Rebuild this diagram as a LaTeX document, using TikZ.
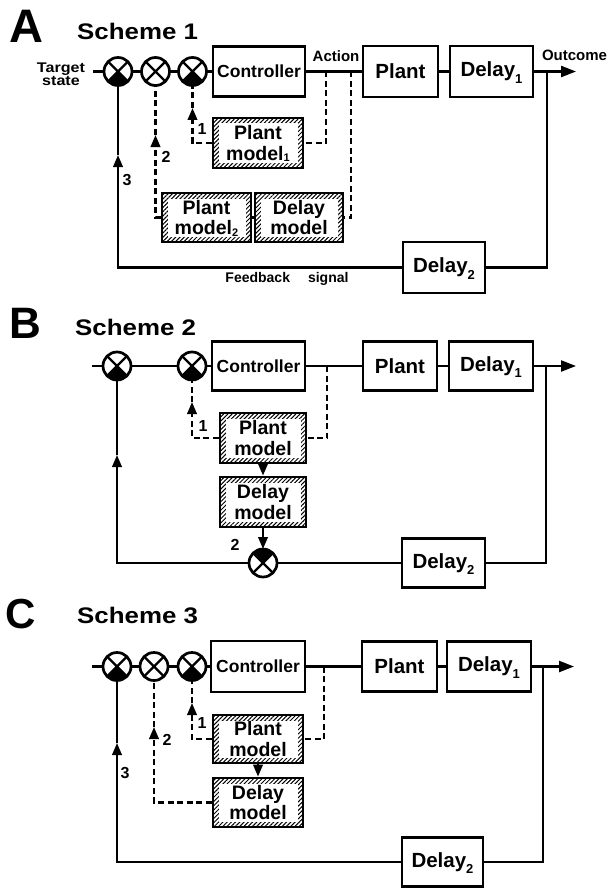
\documentclass[tikz,border=0pt]{standalone}
\usepackage{fontspec}
\setmainfont{Liberation Sans}
\newfontfamily\widefont[FakeStretch=1.15]{Liberation Sans}
\usetikzlibrary{arrows.meta,patterns.meta}

\newcommand\dsub[1]{\raisebox{-6.5pt}[0pt][0pt]{\fontsize{13}{13}\selectfont #1}}
\newcommand\msub[1]{\raisebox{-1.5pt}[0pt][0pt]{\fontsize{11}{11}\selectfont #1}}
\newcommand\jcross[1]{\draw[line width=2.2pt] (#1.45) -- (#1.225) (#1.135) -- (#1.-45);}
\newcommand\jbot[1]{\fill (#1.center) -- (#1.-135) arc[start angle=-135,end angle=-45,radius=14pt] -- cycle;}
\newcommand\jtop[1]{\fill (#1.center) -- (#1.45) arc[start angle=45,end angle=135,radius=14pt] -- cycle;}

\tikzset{
  blk/.style={draw, line width=2.2pt, inner sep=0pt, align=center,
    font=\fontsize{20.5}{21}\selectfont\bfseries},
  ctrl/.style={blk, font=\fontsize{17.5}{18}\selectfont\bfseries},
  hbox/.style={draw, line width=2.8pt, inner sep=0pt, align=center,
    font=\fontsize{19.5}{20.5}\selectfont\bfseries,
    path picture={
      \fill[pattern={Lines[angle=45,distance=3pt,line width=1pt]}]
        (path picture bounding box.south west) rectangle (path picture bounding box.north east);
      \fill[white] ([shift={(5.5pt,-5.5pt)}]path picture bounding box.north west)
        rectangle ([shift={(-5.5pt,5.5pt)}]path picture bounding box.south east);
    }},
  junc/.style={circle, draw, line width=2.7pt, minimum size=28pt, inner sep=0pt, outer sep=0pt},
  conn/.style={line width=2.3pt},
  dconn/.style={line width=2.2pt, dash pattern=on 6pt off 3.5pt},
  tip/.style={-{Triangle[length=12pt,width=9.5pt]}},
  bigtip/.style={-{Triangle[length=15pt,width=11pt]}},
  lbl/.style={inner sep=0pt, font=\fontsize{15}{15}\selectfont\bfseries},
  num/.style={inner sep=0pt, font=\fontsize{16}{16}\selectfont\bfseries},
  small/.style={inner sep=0pt, align=center, font=\widefont\bfseries\fontsize{14}{13}\selectfont},
  fb/.style={inner sep=0pt, font=\fontsize{14}{14}\selectfont\bfseries},
  title/.style={inner sep=0pt, anchor=base west, font=\widefont\bfseries\fontsize{22.5}{22.5}\selectfont},
  bigl/.style={inner sep=0pt, font=\bfseries},
}

\begin{document}
\begin{tikzpicture}[x=1pt,y=-1pt]
\useasboundingbox (0,0) rectangle (608,888);

% ================= Panel A =================
\node[bigl, font=\fontsize{47}{47}\selectfont\bfseries] (A) at (26.5,26.5) {A};
\node[title] (tA) at (77,40) {Scheme 1};
\node[small] (tgt) at (61,74) {Target\\state};
\coordinate (inA) at (93,71.5);
\node[junc] (a1) at (118,71.5) {};
\node[junc] (a2) at (155.5,71.5) {};
\node[junc] (a3) at (192.5,71.5) {};
\node[ctrl, minimum width=92pt, minimum height=50pt] (ctA) at (259,71.5) {Controller};
\node[blk, minimum width=75pt, minimum height=51pt] (plA) at (400.5,71.5) {Plant};
\node[blk, minimum width=83pt, minimum height=51pt] (d1A) at (491.5,71.5) {Delay\dsub{1}};
\node[lbl] (actA) at (336,56) {Action};
\node[lbl] (outA) at (574.5,55) {Outcome};
\coordinate (oA) at (576,71.5);
\coordinate (rA) at (547,71.5);
\coordinate (t1A) at (326,71.5);
\coordinate (t2A) at (351,71.5);
\node[hbox, minimum width=90pt, minimum height=50pt] (pm1A) at (258,143) {Plant\\model\msub{1}};
\node[hbox, minimum width=89pt, minimum height=49pt] (pm2A) at (206.5,217.5) {Plant\\model\msub{2}};
\node[hbox, minimum width=88pt, minimum height=49pt] (dmA) at (299,217.5) {Delay\\model};
\node[blk, minimum width=82pt, minimum height=51pt] (d2A) at (444,267.5) {Delay\dsub{2}};
\coordinate (ar1A) at (192.5,108);
\coordinate (ar2A) at (155.5,135);
\coordinate (ar3A) at (118,155);
\node[num] (n1A) at (202,129) {1};
\node[num] (n2A) at (166,157) {2};
\node[num] (n3A) at (127,180) {3};
\node[fb] (fbA) at (287,278.5) {Feedback\hspace{18pt}signal};

\draw[conn] (inA) -- (a1) -- (a2) -- (a3) -- (ctA) -- (plA) -- (d1A);
\draw[conn, bigtip] (d1A) -- (oA);
\draw[conn] (rA) |- (d2A);
\draw[conn, tip] (d2A) -| (ar3A);
\draw[conn] (ar3A) -- (a1);
\draw[dconn] (t1A) |- (pm1A);
\draw[dconn] (t2A) |- (dmA);
\draw[dconn, tip] (pm1A) -| (ar1A);
\draw[dconn] (ar1A) -- (a3);
\draw[dconn, tip] (pm2A) -| (ar2A);
\draw[dconn] (ar2A) -- (a2);
\draw[conn] (pm2A) -- (dmA);
\jbot{a1}\jcross{a1}
\jcross{a2}
\jbot{a3}\jcross{a3}

% ================= Panel B =================
\node[bigl, font=\fontsize{44}{44}\selectfont\bfseries] (B) at (25,323) {B};
\node[title] (tB) at (75,335) {Scheme 2};
\coordinate (inB) at (92,366);
\node[junc] (b1) at (117,366) {};
\node[junc] (b2) at (192,366) {};
\node[ctrl, minimum width=93pt, minimum height=49pt] (ctB) at (258.5,366) {Controller};
\node[blk, minimum width=74pt, minimum height=49pt] (plB) at (400,366) {Plant};
\node[blk, minimum width=84pt, minimum height=49pt] (d1B) at (491,366) {Delay\dsub{1}};
\coordinate (oB) at (576,366);
\coordinate (rB) at (546,366);
\coordinate (t1B) at (327,366);
\node[hbox, minimum width=86pt, minimum height=50pt] (pmB) at (263,438) {Plant\\model};
\node[hbox, minimum width=86pt, minimum height=50pt] (dmB) at (263,502) {Delay\\model};
\node[junc] (b3) at (263,563) {};
\node[blk, minimum width=83pt, minimum height=49pt] (d2B) at (443.5,563) {Delay\dsub{2}};
\coordinate (ar1B) at (192,402);
\coordinate (ar3B) at (117,455);
\node[num] (n1B) at (203,426) {1};
\node[num] (n2B) at (235,545) {2};

\draw[conn] (inB) -- (b1) -- (b2) -- (ctB) -- (plB) -- (d1B);
\draw[conn, bigtip] (d1B) -- (oB);
\draw[conn] (rB) |- (d2B);
\draw[conn] (d2B) -- (b3);
\draw[conn, tip] (b3) -| (ar3B);
\draw[conn] (ar3B) -- (b1);
\draw[dconn] (t1B) |- (pmB);
\draw[dconn, tip] (pmB) -| (ar1B);
\draw[dconn] (ar1B) -- (b2);
\draw[conn, tip] (pmB) -- (dmB);
\draw[conn, tip] (dmB) -- (b3);
\jbot{b1}\jcross{b1}
\jbot{b2}\jcross{b2}
\jtop{b3}\jcross{b3}

% ================= Panel C =================
\node[bigl, font=\fontsize{42}{42}\selectfont\bfseries] (C) at (21,614) {C};
\node[title] (tC) at (77,623) {Scheme 3};
\coordinate (inC) at (92,666.5);
\node[junc] (c1) at (117,666.5) {};
\node[junc] (c2) at (154,666.5) {};
\node[junc] (c3) at (192,666.5) {};
\node[ctrl, minimum width=94pt, minimum height=51pt] (ctC) at (258,666.5) {Controller};
\node[blk, minimum width=75pt, minimum height=50pt] (plC) at (399.5,666.5) {Plant};
\node[blk, minimum width=84pt, minimum height=50pt] (d1C) at (489,666.5) {Delay\dsub{1}};
\coordinate (oC) at (574,666.5);
\coordinate (rC) at (543,666.5);
\coordinate (t1C) at (324,666.5);
\node[hbox, minimum width=90pt, minimum height=48pt] (pmC) at (258,739) {Plant\\model};
\node[hbox, minimum width=90pt, minimum height=49pt] (dmC) at (258,802.5) {Delay\\model};
\node[blk, minimum width=81pt, minimum height=49pt] (d2C) at (442.5,862) {Delay\dsub{2}};
\coordinate (ar1C) at (192,703);
\coordinate (ar2C) at (154,727);
\coordinate (ar3C) at (117,743);
\node[num] (n1C) at (202,723) {1};
\node[num] (n2C) at (167,740) {2};
\node[num] (n3C) at (125,773) {3};

\draw[conn] (inC) -- (c1) -- (c2) -- (c3) -- (ctC) -- (plC) -- (d1C);
\draw[conn, bigtip] (d1C) -- (oC);
\draw[conn] (rC) |- (d2C);
\draw[conn, tip] (d2C) -| (ar3C);
\draw[conn] (ar3C) -- (c1);
\draw[dconn] (t1C) |- (pmC);
\draw[dconn, tip] (pmC) -| (ar1C);
\draw[dconn] (ar1C) -- (c3);
\draw[dconn, tip] (dmC) -| (ar2C);
\draw[dconn] (ar2C) -- (c2);
\draw[conn, tip] (pmC) -- (dmC);
\jbot{c1}\jcross{c1}
\jcross{c2}
\jbot{c3}\jcross{c3}
\end{tikzpicture}
\end{document}
